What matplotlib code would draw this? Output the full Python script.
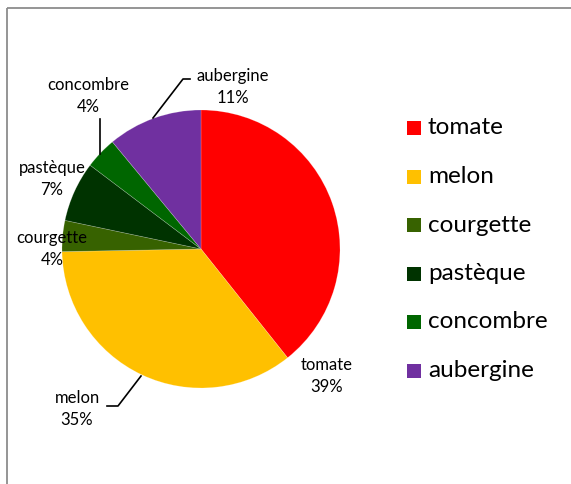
import matplotlib
matplotlib.use("Agg")
import matplotlib.pyplot as plt
from matplotlib.patches import Rectangle

categories = ["tomate", "melon", "courgette", "pastèque", "concombre", "aubergine"]
values = [39.3, 35.4, 3.6, 7.0, 3.7, 11.0]
colors = ["#FF0000", "#FFC000", "#376200", "#003300", "#006600", "#7030A0"]

W, H = 571, 484
fig = plt.figure(figsize=(W / 100, H / 100), dpi=100)
ax = fig.add_axes([0, 0, 1, 1])

plt.rcParams["font.family"] = ["Lato", "DejaVu Sans"]

cx, cy, r = 201, 249, 139
# y axis inverted -> counterclock=True draws clockwise visually; startangle -90 = top
wedges, _ = ax.pie(values, colors=colors, startangle=-90, counterclock=True,
                   center=(cx, cy), radius=r, frame=True,
                   wedgeprops=dict(linewidth=0.5, edgecolor="#ffffff40"))
ax.set_xlim(0, W)
ax.set_ylim(H, 0)
ax.set_aspect("equal")
ax.axis("off")

# frame
ax.add_patch(Rectangle((7, 8), 600, 500, fill=False, edgecolor="#8c8c8c", lw=1.3))

label_pos = {
    "tomate": (327, 376),
    "melon": (77, 409),
    "courgette": (52, 249),
    "pastèque": (52, 179),
    "concombre": (88, 96),
    "aubergine": (233, 87),
}
total = sum(values)
for cat, v in zip(categories, values):
    x, y = label_pos[cat]
    ax.text(x, y, f"{cat}\n{round(v / total * 100):.0f}%", ha="center", va="center",
            fontsize=12, color="#000000", linespacing=1.42)

# leader lines
ax.plot([153, 183, 190], [118, 79, 79], color="black", lw=1.2)
ax.plot([100, 100], [119, 154], color="black", lw=1.2)
ax.plot([107, 118, 141], [406, 406, 376], color="black", lw=1.2)

# legend
ly0, dy = 128, 48.5
for i, (cat, col) in enumerate(zip(categories, colors)):
    y = ly0 + i * dy
    ax.add_patch(Rectangle((407, y - 7), 14, 14, facecolor=col, edgecolor="none"))
    ax.text(428, y, cat, ha="left", va="center", fontsize=17.5, color="#000000")

fig.savefig("out.png", dpi=100)
